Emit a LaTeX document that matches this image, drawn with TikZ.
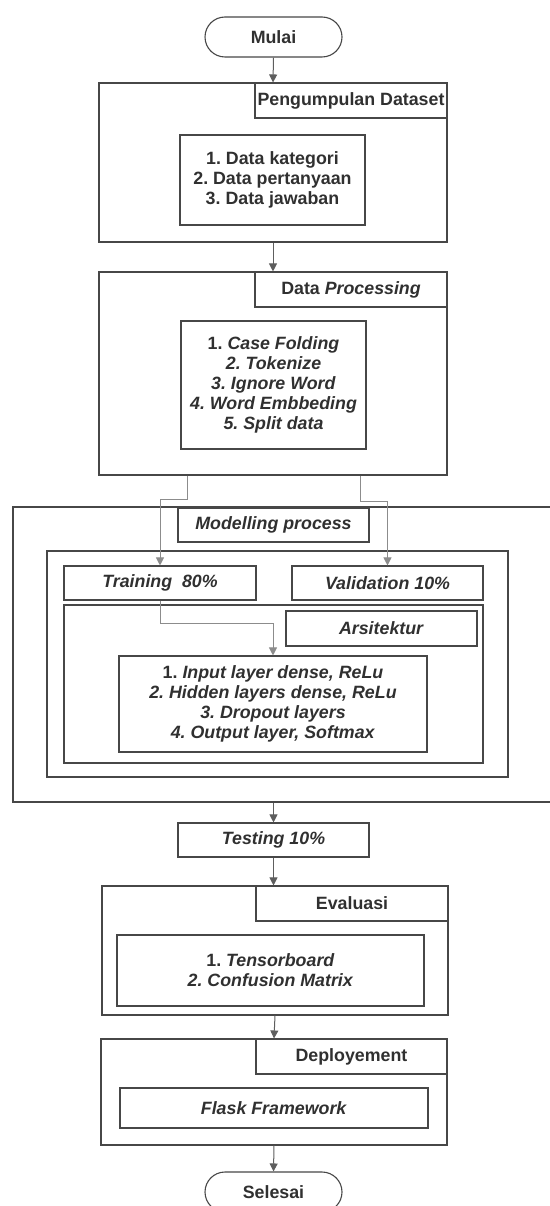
\documentclass[tikz,border=0pt]{standalone}
\usepackage{fontspec}
\setmainfont{Liberation Sans}
\usetikzlibrary{arrows.meta}
\definecolor{garis}{HTML}{474747}
\definecolor{panahabu}{HTML}{5E5E5E}
\definecolor{alurabu}{HTML}{8C8C8C}
\definecolor{teks}{HTML}{303030}
\frenchspacing
\begin{document}
\begin{tikzpicture}[x=1pt,y=-1pt,
  kotak/.style={draw=garis, line width=1.1pt, fill=white, inner sep=1.5pt,
    align=center, text=teks, font=\bfseries\fontsize{17.8}{20}\selectfont},
  ujung/.style={kotak, rounded corners=20pt},
  panah/.style={draw=panahabu, line width=1pt, -{Triangle[width=8pt,length=8pt]}},
  alur/.style={panah, draw=alurabu}]
\useasboundingbox (0,0) rectangle (549,1206);
% mulai
\node[ujung, minimum width=137, minimum height=40] (mulai) at (273.5,37) {Mulai};
% pengumpulan dataset
\node[kotak, minimum width=348, minimum height=159] (kumpul) at (273,162.5) {};
\node[kotak, minimum width=192, minimum height=35] (kumpulJudul) at (351,100.5) {Pengumpulan Dataset};
\node[kotak, minimum width=185, minimum height=90] (kumpulIsi) at (272.5,180)
  {1. Data kategori\\2. Data pertanyaan\\3. Data jawaban};
% data processing
\node[kotak, minimum width=348, minimum height=203] (proses) at (273,373.5) {};
\node[kotak, minimum width=192, minimum height=35] (prosesJudul) at (351,289.5) {Data \textit{Processing}};
\node[kotak, minimum width=185, minimum height=128] (prosesIsi) at (273.5,385)
  {1. \textit{Case Folding}\\\textit{2. Tokenize}\\\textit{3. Ignore Word}\\\textit{4. Word Embbeding}\\\textit{5. Split data}};
% modelling
\node[kotak, minimum width=552, minimum height=295] (model) at (289,654.5) {};
\node[kotak, minimum width=191, minimum height=34] (modelJudul) at (273.5,525) {\textit{Modelling process}};
\node[kotak, minimum width=461, minimum height=226] (modelDalam) at (277.5,664) {};
\node[kotak, minimum width=192, minimum height=34] (training) at (160,583) {\textit{Training\ \ 80\%}};
\node[kotak, minimum width=191, minimum height=34] (validasi) at (387.5,583) {\textit{Validation 10\%}};
\node[kotak, minimum width=419, minimum height=158] (arsi) at (273.5,684) {};
\node[kotak, minimum width=191, minimum height=35] (arsiJudul) at (381.5,628.5) {\textit{Arsitektur}};
\node[kotak, minimum width=308, minimum height=96] (arsiIsi) at (273,704)
  {1. \textit{Input layer dense, ReLu}\\\textit{2. Hidden layers dense, ReLu}\\\textit{3. Dropout layers}\\\textit{4. Output layer, Softmax}};
% testing
\node[kotak, minimum width=191, minimum height=34] (testing) at (273.5,840) {\textit{Testing 10\%}};
% evaluasi
\node[kotak, minimum width=346, minimum height=129] (evaluasi) at (275,950.5) {};
\node[kotak, minimum width=192, minimum height=35] (evalJudul) at (352,903.5) {Evaluasi};
\node[kotak, minimum width=307, minimum height=71] (evalIsi) at (270.5,970.5)
  {1. \textit{Tensorboard}\\\textit{2. Confusion Matrix}};
% deployement
\node[kotak, minimum width=346, minimum height=106] (deploy) at (274,1092) {};
\node[kotak, minimum width=191, minimum height=35] (deployJudul) at (351.5,1056.5) {Deployement};
\node[kotak, minimum width=308, minimum height=40] (flask) at (274,1108) {\textit{Flask Framework}};
% selesai
\node[ujung, minimum width=137, minimum height=40] (selesai) at (273.5,1192) {Selesai};
% alur
\draw[panah] (mulai.south) -- (kumpul.north);
\draw[panah] (kumpul.south) -- (proses.north);
\draw[alur] ([xshift=-86pt]proses.south) -- ++(0,24) -| (training.north);
\draw[alur] ([xshift=87pt]proses.south) -- ++(0,26) -| (validasi.north);
\draw[alur] (training.south) -- ++(0,23) -| (arsiIsi.north);
\draw[panah] (testing.north |- model.south) -- (testing.north);
\draw[panah] (testing.south) -- (testing.south |- evaluasi.north);
\draw[panah] (evaluasi.south) -- (deploy.north);
\draw[panah] (deploy.south) -- (selesai.north);
\end{tikzpicture}
\end{document}
